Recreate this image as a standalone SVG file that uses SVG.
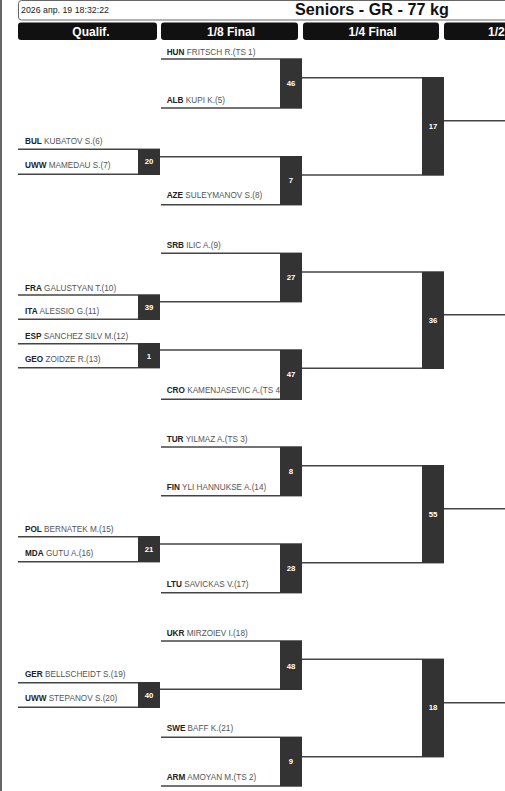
<svg xmlns="http://www.w3.org/2000/svg" width="505" height="791" viewBox="0 0 505 791">
<style>
.hdr{fill:#fff;stroke:#666;stroke-width:1}
.col{fill:#111}
.colt{fill:#fff;font:bold 12px "Liberation Sans",Arial,sans-serif;text-anchor:middle}
.nm{font:8.2px "Liberation Sans",Arial,sans-serif;fill:#555}
.cc{font-weight:bold;fill:#222}
.ln{stroke:#444;stroke-width:1.4;fill:none}
.bx{fill:#333}
.bn{fill:#fff;font:bold 7.8px "Liberation Sans",Arial,sans-serif;text-anchor:middle}
</style>
<rect width="505" height="791" fill="#fff"/>
<line x1="1" y1="0" x2="1" y2="791" stroke="#333" stroke-width="1.5"/>
<g id="header">
<rect class="hdr" x="18.5" y="0.5" width="500" height="19.5" rx="3"/>
<text x="21" y="13" style="font:8.8px 'Liberation Sans',Arial,sans-serif;fill:#222">2026 апр. 19 18:32:22</text>
<text x="295" y="14.5" style="font:bold 16.2px 'Liberation Sans',Arial,sans-serif;fill:#111">Seniors - GR - 77 kg</text>
</g>
<g id="columns">
<rect class="col" x="18" y="22.5" width="139" height="17.5" rx="3"/>
<rect class="col" x="161" y="22.5" width="137" height="17.5" rx="3"/>
<rect class="col" x="303" y="22.5" width="136" height="17.5" rx="3"/>
<rect class="col" x="444" y="22.5" width="80" height="17.5" rx="3"/>
<text class="colt" x="91" y="35.5">Qualif.</text>
<text class="colt" x="231" y="35.5">1/8 Final</text>
<text class="colt" x="372.5" y="35.5">1/4 Final</text>
<text class="colt" x="488" y="35.5" style="text-anchor:start">1/2</text>
</g>
<g id="connectors">
<line class="ln" x1="160" y1="156.7" x2="280" y2="156.7"/>
<line class="ln" x1="302" y1="77.7" x2="422" y2="77.7"/>
<line class="ln" x1="302" y1="175" x2="422" y2="175"/>
<line class="ln" x1="444" y1="120.7" x2="505" y2="120.7"/>
<line class="ln" x1="160" y1="301.7" x2="280" y2="301.7"/>
<line class="ln" x1="160" y1="350" x2="280" y2="350"/>
<line class="ln" x1="302" y1="272" x2="422" y2="272"/>
<line class="ln" x1="302" y1="368.3" x2="422" y2="368.3"/>
<line class="ln" x1="444" y1="314.7" x2="505" y2="314.7"/>
<line class="ln" x1="160" y1="544" x2="280" y2="544"/>
<line class="ln" x1="302" y1="465.7" x2="422" y2="465.7"/>
<line class="ln" x1="302" y1="562.7" x2="422" y2="562.7"/>
<line class="ln" x1="444" y1="508.7" x2="505" y2="508.7"/>
<line class="ln" x1="160" y1="689.3" x2="280" y2="689.3"/>
<line class="ln" x1="302" y1="659.3" x2="422" y2="659.3"/>
<line class="ln" x1="302" y1="756.7" x2="422" y2="756.7"/>
<line class="ln" x1="444" y1="702.7" x2="505" y2="702.7"/>
</g>
<g id="m46">
<text class="nm" x="166.7" y="55"><tspan class="cc">HUN</tspan> FRITSCH R.(TS 1)</text>
<line class="ln" x1="161" y1="59" x2="280" y2="59"/>
<text class="nm" x="166.7" y="102.7"><tspan class="cc">ALB</tspan> KUPI K.(5)</text>
<line class="ln" x1="161" y1="108" x2="280" y2="108"/>
<rect class="bx" x="280" y="58.3" width="22" height="50.4"/>
<text class="bn" x="291" y="86">46</text>
</g>
<g id="m20">
<text class="nm" x="25" y="144"><tspan class="cc">BUL</tspan> KUBATOV S.(6)</text>
<line class="ln" x1="18" y1="149.3" x2="138" y2="149.3"/>
<text class="nm" x="25" y="168.3"><tspan class="cc">UWW</tspan> MAMEDAU S.(7)</text>
<line class="ln" x1="18" y1="174.3" x2="138" y2="174.3"/>
<rect class="bx" x="138" y="148.6" width="22" height="26.4"/>
<text class="bn" x="149" y="163.7">20</text>
</g>
<g id="m7">
<text class="nm" x="166.7" y="198.3"><tspan class="cc">AZE</tspan> SULEYMANOV S.(8)</text>
<line class="ln" x1="161" y1="204.7" x2="280" y2="204.7"/>
<rect class="bx" x="280" y="156" width="22" height="49.4"/>
<text class="bn" x="291" y="182.7">7</text>
</g>
<g id="m17">
<rect class="bx" x="422" y="77" width="22" height="98.7"/>
<text class="bn" x="433" y="128.7">17</text>
</g>
<g id="m27">
<text class="nm" x="166.7" y="248.3"><tspan class="cc">SRB</tspan> ILIC A.(9)</text>
<line class="ln" x1="161" y1="253.3" x2="280" y2="253.3"/>
<rect class="bx" x="280" y="252.6" width="22" height="49.8"/>
<text class="bn" x="291" y="280">27</text>
</g>
<g id="m39">
<text class="nm" x="25" y="291"><tspan class="cc">FRA</tspan> GALUSTYAN T.(10)</text>
<line class="ln" x1="18" y1="295" x2="138" y2="295"/>
<text class="nm" x="25" y="314.3"><tspan class="cc">ITA</tspan> ALESSIO G.(11)</text>
<line class="ln" x1="18" y1="319.3" x2="138" y2="319.3"/>
<rect class="bx" x="138" y="294.3" width="22" height="25.7"/>
<text class="bn" x="149" y="310">39</text>
</g>
<g id="m1">
<text class="nm" x="25" y="339"><tspan class="cc">ESP</tspan> SANCHEZ SILV M.(12)</text>
<line class="ln" x1="18" y1="343.7" x2="138" y2="343.7"/>
<text class="nm" x="25" y="362.3"><tspan class="cc">GEO</tspan> ZOIDZE R.(13)</text>
<line class="ln" x1="18" y1="367.7" x2="138" y2="367.7"/>
<rect class="bx" x="138" y="343" width="22" height="25.4"/>
<text class="bn" x="149" y="358.7">1</text>
</g>
<g id="m47">
<text class="nm" x="166.7" y="393.3"><tspan class="cc">CRO</tspan> KAMENJASEVIC A.(TS 4</text>
<line class="ln" x1="161" y1="399.3" x2="280" y2="399.3"/>
<rect class="bx" x="280" y="349.3" width="22" height="50.7"/>
<text class="bn" x="291" y="376.7">47</text>
</g>
<g id="m36">
<rect class="bx" x="422" y="271.3" width="22" height="97.7"/>
<text class="bn" x="433" y="322.7">36</text>
</g>
<g id="m8">
<text class="nm" x="166.7" y="441.7"><tspan class="cc">TUR</tspan> YILMAZ A.(TS 3)</text>
<line class="ln" x1="161" y1="447" x2="280" y2="447"/>
<text class="nm" x="166.7" y="490"><tspan class="cc">FIN</tspan> YLI HANNUKSE A.(14)</text>
<line class="ln" x1="161" y1="495.7" x2="280" y2="495.7"/>
<rect class="bx" x="280" y="446.3" width="22" height="50.1"/>
<text class="bn" x="291" y="474.4">8</text>
</g>
<g id="m21">
<text class="nm" x="25" y="531.7"><tspan class="cc">POL</tspan> BERNATEK M.(15)</text>
<line class="ln" x1="18" y1="536.7" x2="138" y2="536.7"/>
<text class="nm" x="25" y="556"><tspan class="cc">MDA</tspan> GUTU A.(16)</text>
<line class="ln" x1="18" y1="561.7" x2="138" y2="561.7"/>
<rect class="bx" x="138" y="536" width="22" height="26.4"/>
<text class="bn" x="149" y="552">21</text>
</g>
<g id="m28">
<text class="nm" x="166.7" y="586.7"><tspan class="cc">LTU</tspan> SAVICKAS V.(17)</text>
<line class="ln" x1="161" y1="592.7" x2="280" y2="592.7"/>
<rect class="bx" x="280" y="543.3" width="22" height="50.1"/>
<text class="bn" x="291" y="571">28</text>
</g>
<g id="m55">
<rect class="bx" x="422" y="465" width="22" height="98.4"/>
<text class="bn" x="433" y="517">55</text>
</g>
<g id="m48">
<text class="nm" x="166.7" y="636"><tspan class="cc">UKR</tspan> MIRZOIEV I.(18)</text>
<line class="ln" x1="161" y1="641" x2="280" y2="641"/>
<rect class="bx" x="280" y="640.3" width="22" height="49.7"/>
<text class="bn" x="291" y="668.7">48</text>
</g>
<g id="m40">
<text class="nm" x="25" y="676.7"><tspan class="cc">GER</tspan> BELLSCHEIDT S.(19)</text>
<line class="ln" x1="18" y1="682.7" x2="138" y2="682.7"/>
<text class="nm" x="25" y="700.7"><tspan class="cc">UWW</tspan> STEPANOV S.(20)</text>
<line class="ln" x1="18" y1="707.3" x2="138" y2="707.3"/>
<rect class="bx" x="138" y="682" width="22" height="26"/>
<text class="bn" x="149" y="698">40</text>
</g>
<g id="m9">
<text class="nm" x="166.7" y="730.7"><tspan class="cc">SWE</tspan> BAFF K.(21)</text>
<line class="ln" x1="161" y1="737.3" x2="280" y2="737.3"/>
<text class="nm" x="166.7" y="780"><tspan class="cc">ARM</tspan> AMOYAN M.(TS 2)</text>
<line class="ln" x1="161" y1="786" x2="280" y2="786"/>
<rect class="bx" x="280" y="736.6" width="22" height="50.1"/>
<text class="bn" x="291" y="764.4">9</text>
</g>
<g id="m18">
<rect class="bx" x="422" y="658.6" width="22" height="98.8"/>
<text class="bn" x="433" y="710.4">18</text>
</g>
</svg>
